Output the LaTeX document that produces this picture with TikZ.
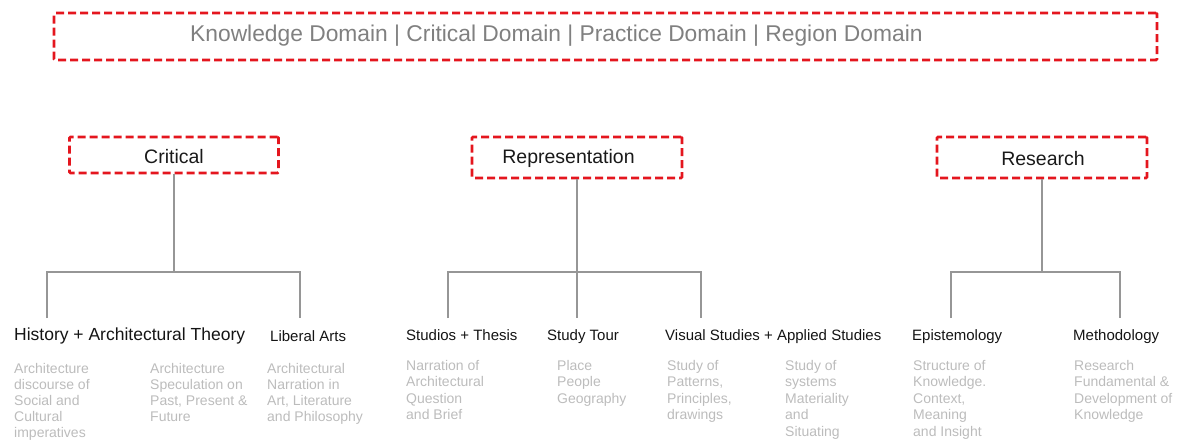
\documentclass[tikz,border=0pt]{standalone}
\usepackage{fontspec}
\setmainfont{Liberation Sans}
\definecolor{dashred}{RGB}{228,22,30}
\definecolor{linkgray}{RGB}{150,150,150}
\definecolor{notegray}{RGB}{188,188,188}
\definecolor{headgray}{RGB}{128,128,128}
\begin{document}
\begin{tikzpicture}[x=1pt,y=-1pt,
  domainbox/.style={draw=dashred, line width=2.7pt, dash pattern=on 8pt off 4pt,
    inner sep=0pt, rounded corners=1pt},
  boxlabel/.style={font=\fontsize{19.5}{22}\selectfont, text=black!90, inner sep=0pt},
  branch/.style={font=\fontsize{15}{18}\selectfont, text=black!92, inner sep=0pt, anchor=base west},
  note/.style={font=\fontsize{14}{16.5}\selectfont, text=notegray, inner sep=0pt,
    anchor=north west, align=left},
  link/.style={draw=linkgray, line width=1.4pt}]
\useasboundingbox (0,0) rectangle (1180,441);

% header band
\node[domainbox, minimum width=1103pt, minimum height=47pt] (domains) at (605.5,36.5) {};
\node[anchor=base west, inner sep=0pt, text=headgray, font=\fontsize{22.8}{26}\selectfont]
  (domtext) at (190,42) {Knowledge Domain | Critical Domain | Practice Domain | Region Domain};

% three main categories
\node[domainbox, minimum width=209pt, minimum height=36pt] (crit) at (174,155) {};
\node[boxlabel, anchor=base] (critlbl) at (174,164) {Critical};
\node[domainbox, minimum width=210pt, minimum height=41pt] (repr) at (577,157.5) {};
\node[boxlabel, anchor=base] (reprlbl) at (568.5,164) {Representation};
\node[domainbox, minimum width=210pt, minimum height=41pt] (resr) at (1042,157.5) {};
\node[boxlabel, anchor=base] (resrlbl) at (1043,165) {Research};

% bus junctions and branch ends
\coordinate (cbus) at (174,272);
\coordinate (rbus) at (577,272);
\coordinate (sbus) at (1042,272);
\coordinate (c1) at (47,318);
\coordinate (c2) at (300,318);
\coordinate (r1) at (448,318);
\coordinate (r2) at (577,318);
\coordinate (r3) at (701,318);
\coordinate (s1) at (951,318);
\coordinate (s2) at (1120,318);

% connectors
\draw[link] (crit.south) -- (cbus);
\draw[link] (c1) |- (cbus) -| (c2);
\draw[link] (repr.south) -- (r2);
\draw[link] (r1) |- (rbus) -| (r3);
\draw[link] (resr.south) -- (sbus);
\draw[link] (s1) |- (sbus) -| (s2);

% branch titles
\node[branch, font=\fontsize{17.5}{20}\selectfont] (hist) at (14,340.5) {History + Architectural Theory};
\node[branch] (lib) at (270,341) {Liberal Arts};
\node[branch] (stud) at (406,340) {Studios + Thesis};
\node[branch] (tour) at (547,340) {Study Tour};
\node[branch] (vis) at (665,340) {Visual Studies + Applied Studies};
\node[branch] (epi) at (912,340) {Epistemology};
\node[branch] (meth) at (1073,340) {Methodology};

% descriptions
\node[note, font=\fontsize{14}{16}\selectfont] (n1) at (14,363.3) {Architecture\\discourse of\\Social and\\Cultural\\imperatives};
\node[note, font=\fontsize{14}{16}\selectfont] (n2) at (150,363.3) {Architecture\\Speculation on\\Past, Present \&\\Future};
\node[note, font=\fontsize{14}{16}\selectfont] (n3) at (267,363.3) {Architectural\\Narration in\\Art, Literature\\and Philosophy};
\node[note] (n4) at (406,359.8) {Narration of\\Architectural\\Question\\and Brief};
\node[note] (n5) at (557,359.8) {Place\\People\\Geography};
\node[note] (n6) at (667,359.8) {Study of\\Patterns,\\Principles,\\drawings};
\node[note] (n7) at (785,359.8) {Study of\\systems\\Materiality\\and\\Situating};
\node[note] (n8) at (913,359.8) {Structure of\\Knowledge.\\Context,\\Meaning\\and Insight};
\node[note] (n9) at (1074,359.8) {Research\\Fundamental \&\\Development of\\Knowledge};
\end{tikzpicture}
\end{document}
